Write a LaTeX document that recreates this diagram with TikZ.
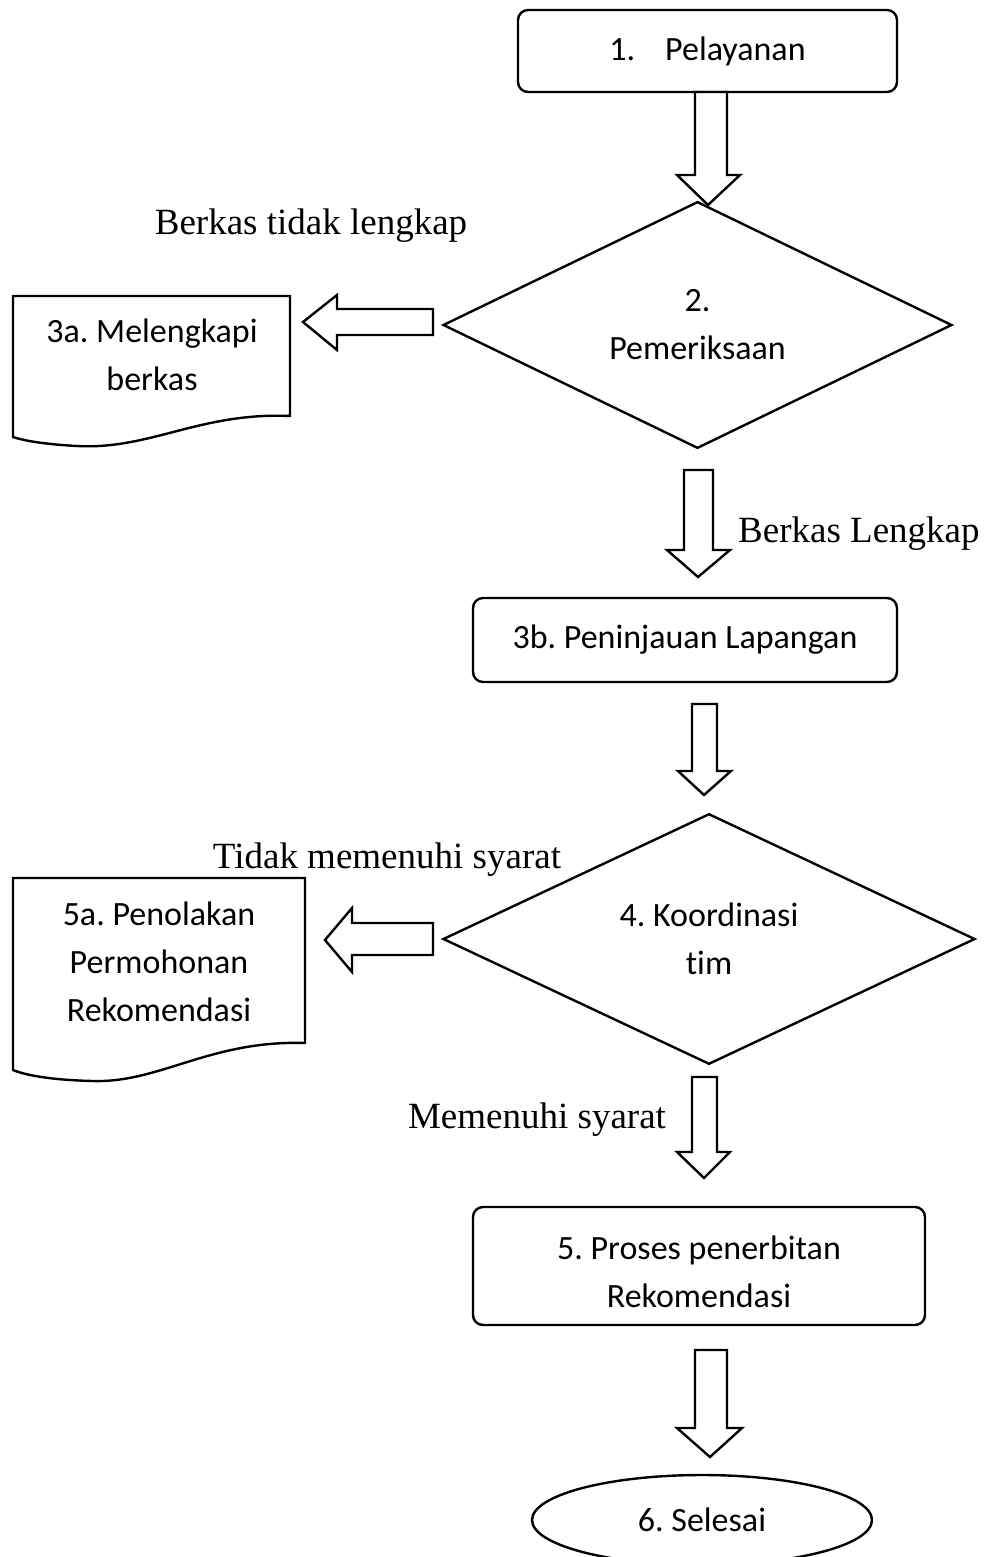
\documentclass[tikz,border=0pt]{standalone}
\usepackage{fontspec}
\setmainfont{Carlito}[Ligatures=NoCommon]
\newfontfamily\lblfont{Liberation Serif}
\usetikzlibrary{shapes.geometric}
\frenchspacing
\begin{document}
\begin{tikzpicture}[x=1pt,y=-1pt,line width=2.4pt,line join=miter,
 box/.style={draw,rounded corners=10pt,inner sep=0pt,align=center,font=\fontsize{34}{49}\selectfont},
 dec/.style={draw,diamond,inner sep=0pt,align=center,font=\fontsize{34}{48}\selectfont},
 doctext/.style={inner sep=0pt,align=center,font=\fontsize{34}{48}\selectfont},
 lbl/.style={inner sep=0pt,font=\lblfont\fontsize{37}{40}\selectfont},
 blk/.style={draw,fill=white,line width=2.4pt},
 docshape/.style={draw,line width=2.4pt}]
\useasboundingbox (0,0) rectangle (985,1557);

% process boxes
\node[box,minimum width=379,minimum height=82] (n1) at (707.5,51) {1.\hspace{30pt}Pelayanan};
\node[dec,minimum width=509,minimum height=244] (n2) at (697.5,325) {2.\\Pemeriksaan};
\node[box,minimum width=424,minimum height=84] (n3b) at (685,640) {3b. Peninjauan Lapangan};
\node[dec,minimum width=532,minimum height=248] (n4) at (709,939) {4. Koordinasi\\tim};
\node[box,minimum width=452,minimum height=118] (n5) at (699,1266) {};
\node[doctext] (n5t) at (699,1272) {5. Proses penerbitan\\Rekomendasi};
\node[draw,ellipse,inner sep=0pt,minimum width=340,minimum height=90,font=\fontsize{34}{40}\selectfont] (n6) at (702,1520) {6. Selesai};

% document shapes
\draw[docshape] (13,296) -- (290,296) -- (290,416)
  .. controls (200,412) and (150,450) .. (77,446)
  .. controls (40,444) and (22,440) .. (13,437) -- cycle;
\node[doctext] (n3a) at (152,355) {3a. Melengkapi\\berkas};
\draw[docshape] (13,878) -- (305,878) -- (305,1043)
  .. controls (210,1040) and (160,1083) .. (93,1081)
  .. controls (50,1080) and (25,1075) .. (13,1070) -- cycle;
\node[doctext] (n5a) at (159,962) {5a. Penolakan\\Permohonan\\Rekomendasi};

% block arrows
\draw[blk] (695,92) -- (695,175) -- (677,175) -- (708,205) -- (740,175) -- (727,175) -- (727,92) -- cycle;
\draw[blk] (684,470) -- (684,550) -- (667,550) -- (698,577) -- (730,550) -- (713,550) -- (713,470) -- cycle;
\draw[blk] (692,704) -- (692,771) -- (678,771) -- (704,795) -- (731,771) -- (717,771) -- (717,704) -- cycle;
\draw[blk] (692,1077) -- (692,1152) -- (677,1152) -- (704,1178) -- (730,1152) -- (717,1152) -- (717,1077) -- cycle;
\draw[blk] (695,1350) -- (695,1428) -- (677,1428) -- (710,1457) -- (742,1428) -- (727,1428) -- (727,1350) -- cycle;
\draw[blk] (433,309) -- (337,309) -- (337,295) -- (303,322) -- (337,350) -- (337,335) -- (433,335) -- cycle;
\draw[blk] (433,923) -- (352,923) -- (352,908) -- (325,940) -- (352,972) -- (352,955) -- (433,955) -- cycle;

% labels
\node[lbl] (l1) at (311,226) {Berkas tidak lengkap};
\node[lbl,anchor=west] (l2) at (737,534) {Berkas Lengkap};
\node[lbl] (l3) at (387,860) {Tidak memenuhi syarat};
\node[lbl] (l4) at (537,1120) {Memenuhi syarat};
\end{tikzpicture}
\end{document}
